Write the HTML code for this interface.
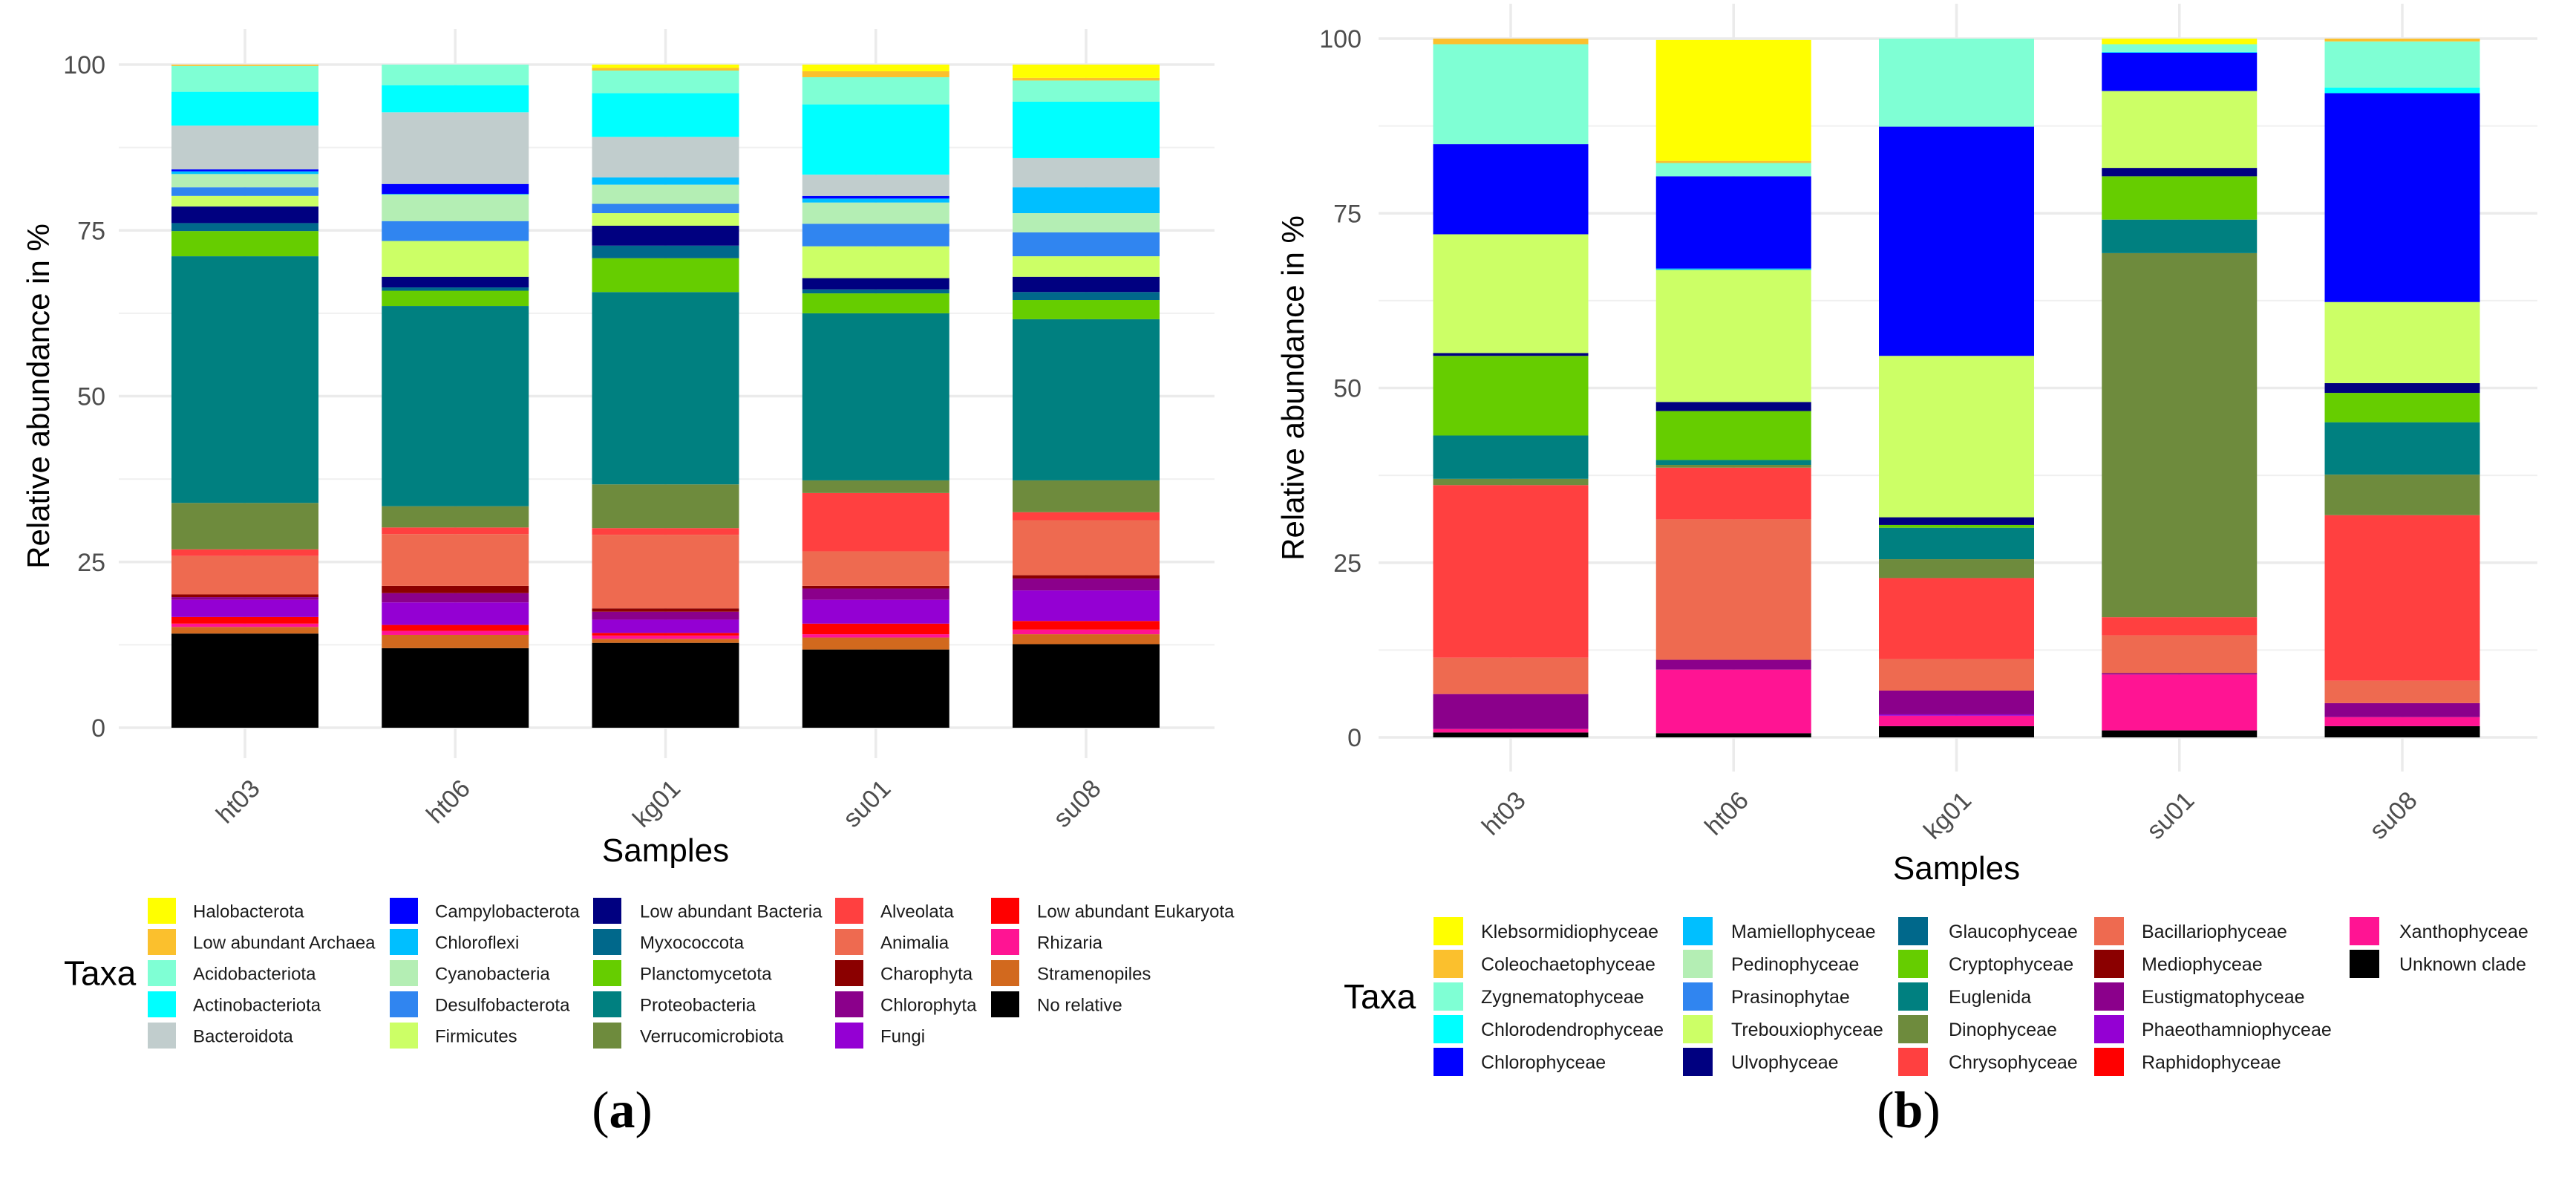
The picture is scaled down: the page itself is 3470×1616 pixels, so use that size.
<!DOCTYPE html>
<html><head><meta charset="utf-8">
<style>
html,body{margin:0;padding:0;background:#fff;}
svg{display:block;font-family:"Liberation Sans",Arial,sans-serif;}
</style></head>
<body>
<svg id="fig" width="3470" height="1616" viewBox="0 0 3470 1616" xmlns="http://www.w3.org/2000/svg">
<rect x="0" y="0" width="3470" height="1616" fill="#fff"/>
<g id="chartA"></g>
<g id="chartB"></g>
<text x="838" y="1518" text-anchor="middle" font-family="Liberation Serif, serif" font-size="70">(<tspan font-weight="bold">a</tspan>)</text>
<text x="2571" y="1518" text-anchor="middle" font-family="Liberation Serif, serif" font-size="70">(<tspan font-weight="bold">b</tspan>)</text>
</svg>
<script>
const samples = ["ht03","ht06","kg01","su01","su08"];
const yTicks = [0,25,50,75,100];

// Chart A taxa (stack bottom -> top)
const taxaA = ["No relative","Stramenopiles","Rhizaria","Low abundant Eukaryota","Fungi","Chlorophyta","Charophyta","Animalia","Alveolata","Verrucomicrobiota","Proteobacteria","Planctomycetota","Myxococcota","Low abundant Bacteria","Firmicutes","Desulfobacterota","Cyanobacteria","Chloroflexi","Campylobacterota","Bacteroidota","Actinobacteriota","Acidobacteriota","Low abundant Archaea","Halobacterota"];
const colorsA = ["#000000","#d2691e","#ff1493","#ff0000","#9400d3","#8b008b","#8b0000","#ee6a50","#ff4040","#6e8b3d","#008080","#66cd00","#00688b","#000080","#ccff66","#3085f0","#b4eeb4","#00bfff","#0000ff","#c1cdcd","#00ffff","#7fffd4","#fbc02d","#ffff00"];
const valuesA_ht03 = [14.2,1.0,0.5,1.0,2.6,0.4,0.4,5.8,1.0,7.0,37.2,3.8,1.2,2.5,1.6,1.3,2.0,0.4,0.3,6.6,5.1,3.9,0.2,0];
const valuesA_ht06 = [12.0,2.0,0.6,0.9,3.4,1.4,1.1,7.8,1.0,3.2,30.2,2.3,0.5,1.6,5.4,3.0,4.0,0.1,1.5,10.8,4.1,3.1,0,0];
const valuesA_kg01 = [12.8,0.6,0.5,0.4,2.0,1.2,0.5,11.1,1.0,6.6,29.0,5.1,1.9,3.0,1.9,1.4,2.9,1.1,0,6.1,6.6,3.4,0.4,0.5];
const valuesA_su01 = [11.8,1.8,0.5,1.6,3.6,1.7,0.4,5.2,8.8,1.9,25.2,3.0,0.6,1.7,4.8,3.4,3.2,0.6,0.4,3.2,10.6,4.1,0.9,1.0];
const valuesA_su08 = [12.6,1.5,0.7,1.3,4.6,1.8,0.5,8.3,1.2,4.8,24.3,2.9,1.2,2.3,3.1,3.6,2.9,3.9,0,4.4,8.5,3.2,0.4,2.0];
const legendA = [["Halobacterota","Low abundant Archaea","Acidobacteriota","Actinobacteriota","Bacteroidota"],["Campylobacterota","Chloroflexi","Cyanobacteria","Desulfobacterota","Firmicutes"],["Low abundant Bacteria","Myxococcota","Planctomycetota","Proteobacteria","Verrucomicrobiota"],["Alveolata","Animalia","Charophyta","Chlorophyta","Fungi"],["Low abundant Eukaryota","Rhizaria","Stramenopiles","No relative"]];

// Chart B taxa (stack bottom -> top)
const taxaB = ["Unknown clade","Xanthophyceae","Raphidophyceae","Phaeothamniophyceae","Eustigmatophyceae","Mediophyceae","Bacillariophyceae","Chrysophyceae","Dinophyceae","Euglenida","Cryptophyceae","Glaucophyceae","Ulvophyceae","Trebouxiophyceae","Prasinophytae","Pedinophyceae","Mamiellophyceae","Chlorophyceae","Chlorodendrophyceae","Zygnematophyceae","Coleochaetophyceae","Klebsormidiophyceae"];
const colorsB = ["#000000","#ff1493","#ff0000","#9400d3","#8b008b","#8b0000","#ee6a50","#ff4040","#6e8b3d","#008080","#66cd00","#00688b","#000080","#ccff66","#3085f0","#b4eeb4","#00bfff","#0000ff","#00ffff","#7fffd4","#fbc02d","#ffff00"];
const valuesB_ht03 = [0.7,0.5,0,0,5.0,0,5.2,24.7,0.9,6.2,11.4,0,0.4,17.0,0,0,0,12.9,0,14.3,0.8,0];
const valuesB_ht06 = [0.6,9.1,0,0,1.4,0,20.1,7.4,0.4,0.7,7.0,0,1.3,18.9,0,0,0.2,13.2,0,1.9,0.3,17.3];
const valuesB_kg01 = [1.6,1.5,0,0.2,3.4,0,4.5,11.6,2.7,4.5,0.4,0,1.1,23.1,0,0,0,32.8,0,12.6,0,0];
const valuesB_su01 = [1.0,8.0,0,0,0.2,0,5.4,2.6,52.1,4.8,6.2,0,1.2,11.0,0,0,0,5.5,0.1,1.1,0,0.8];
const valuesB_su08 = [1.6,1.3,0,0,2.0,0,3.2,23.7,5.8,7.5,4.2,0,1.4,11.6,0,0,0,29.9,0.8,6.6,0.4,0];
const legendB = [["Klebsormidiophyceae","Coleochaetophyceae","Zygnematophyceae","Chlorodendrophyceae","Chlorophyceae"],["Mamiellophyceae","Pedinophyceae","Prasinophytae","Trebouxiophyceae","Ulvophyceae"],["Glaucophyceae","Cryptophyceae","Euglenida","Dinophyceae","Chrysophyceae"],["Bacillariophyceae","Mediophyceae","Eustigmatophyceae","Phaeothamniophyceae","Raphidophyceae"],["Xanthophyceae","Unknown clade"]];

const NS = "http://www.w3.org/2000/svg";
function mk(parent, tag, attrs, text){
  const e = document.createElementNS(NS, tag);
  for (const k in attrs) e.setAttribute(k, attrs[k]);
  if (text !== undefined) e.textContent = text;
  parent.appendChild(e);
  return e;
}

function drawChart(g, cfg, taxa, colors, seriesBySample, legendCols){
  const yScale = v => cfg.y0 + (cfg.y100 - cfg.y0) * v / 100;
  const xScale = i => cfg.cx0 + i * cfg.step;
  for (let i = 0; i < yTicks.length - 1; i++){
    const v = (yTicks[i] + yTicks[i+1]) / 2;
    const l = mk(g,"line",{x1:cfg.gx0,x2:cfg.gx1,y1:yScale(v),y2:yScale(v),stroke:"#f0f0f0","stroke-width":2});
    
    
  }
  yTicks.forEach(v => {
    const l = mk(g,"line",{x1:cfg.gx0,x2:cfg.gx1,y1:yScale(v),y2:yScale(v),stroke:"#ebebeb","stroke-width":3.5});
    
    
    const t = mk(g,"text",{x:cfg.tickX,y:yScale(v)+12,"text-anchor":"end","font-size":34,fill:"#4d4d4d"},String(v));
    
    
  });
  samples.forEach((s,i) => {
    const cx = xScale(i);
    const l = mk(g,"line",{x1:cx,x2:cx,y1:cfg.vTop,y2:cfg.vBot,stroke:"#ebebeb","stroke-width":3.5});
    
    
  });
  samples.forEach((s,i) => {
    const cx = xScale(i);
    const bar = mk(g,"g",{});
    
    
    let cum = 0;
    const vals = seriesBySample[i];
    vals.forEach((v,k) => {
      if (v > 0){
        const yT = yScale(cum + v), yB = yScale(cum);
        const r = mk(bar,"rect",{x:cx - cfg.bw/2, y:yT, width:cfg.bw, height:yB - yT, fill:colors[k]});
        
        
      }
      cum += v;
    });
    const t = mk(g,"text",{x:cx+22,y:cfg.xLabY,"text-anchor":"end","font-size":34,fill:"#4d4d4d",transform:`rotate(-45 ${cx+22} ${cfg.xLabY})`},s);
    
    
  });
  const xt = mk(g,"text",{x:xScale(2),y:cfg.xTitleY,"text-anchor":"middle","font-size":44,fill:"#000"},"Samples");
  
  
  const ymid = (yScale(0)+yScale(100))/2;
  const yt = mk(g,"text",{x:cfg.yTitleX,y:ymid,"text-anchor":"middle","font-size":42,fill:"#000",transform:`rotate(-90 ${cfg.yTitleX} ${ymid})`},"Relative abundance in %");
  
  
  const lg = mk(g,"g",{});
  
  
  const lt = mk(lg,"text",{x:cfg.taxaX,y:cfg.rowTop+2*cfg.pitch+cfg.sh/2+16,"font-size":46,fill:"#000"},"Taxa");
  
  
  legendCols.forEach((col,c) => {
    col.forEach((name,r) => {
      const y = cfg.rowTop + r*cfg.pitch;
      const e = mk(lg,"g",{});
      
      
      mk(e,"rect",{x:cfg.swX[c],y:y,width:cfg.sw,height:cfg.sh,fill:colors[taxa.indexOf(name)]});
      mk(e,"text",{x:cfg.txX[c],y:y+cfg.sh/2+9,"font-size":cfg.lfs,fill:"#1a1a1a"},name);
    });
  });
}

drawChart(document.getElementById('chartA'),
  {y0:980,y100:87,cx0:330,step:283.25,bw:198,gx0:160,gx1:1636,vTop:39,vBot:1021,tickX:142,xLabY:1064,xTitleY:1160,yTitleX:66,
   taxaX:86,rowTop:1209,pitch:42,sw:38,sh:35,lfs:24,swX:[199,525,799,1125,1335],txX:[260,586,862,1186,1397]},
  taxaA, colorsA, [valuesA_ht03,valuesA_ht06,valuesA_kg01,valuesA_su01,valuesA_su08], legendA);

drawChart(document.getElementById('chartB'),
  {y0:993,y100:52,cx0:2035,step:300.25,bw:209,gx0:1857,gx1:3418,vTop:5,vBot:1039,tickX:1834,xLabY:1080,xTitleY:1184,yTitleX:1756,
   taxaX:1810,rowTop:1235,pitch:44,sw:40,sh:38,lfs:25,swX:[1931,2267,2557,2821,3165],txX:[1995,2332,2625,2885,3232]},
  taxaB, colorsB, [valuesB_ht03,valuesB_ht06,valuesB_kg01,valuesB_su01,valuesB_su08], legendB);
</script>
</body></html>
